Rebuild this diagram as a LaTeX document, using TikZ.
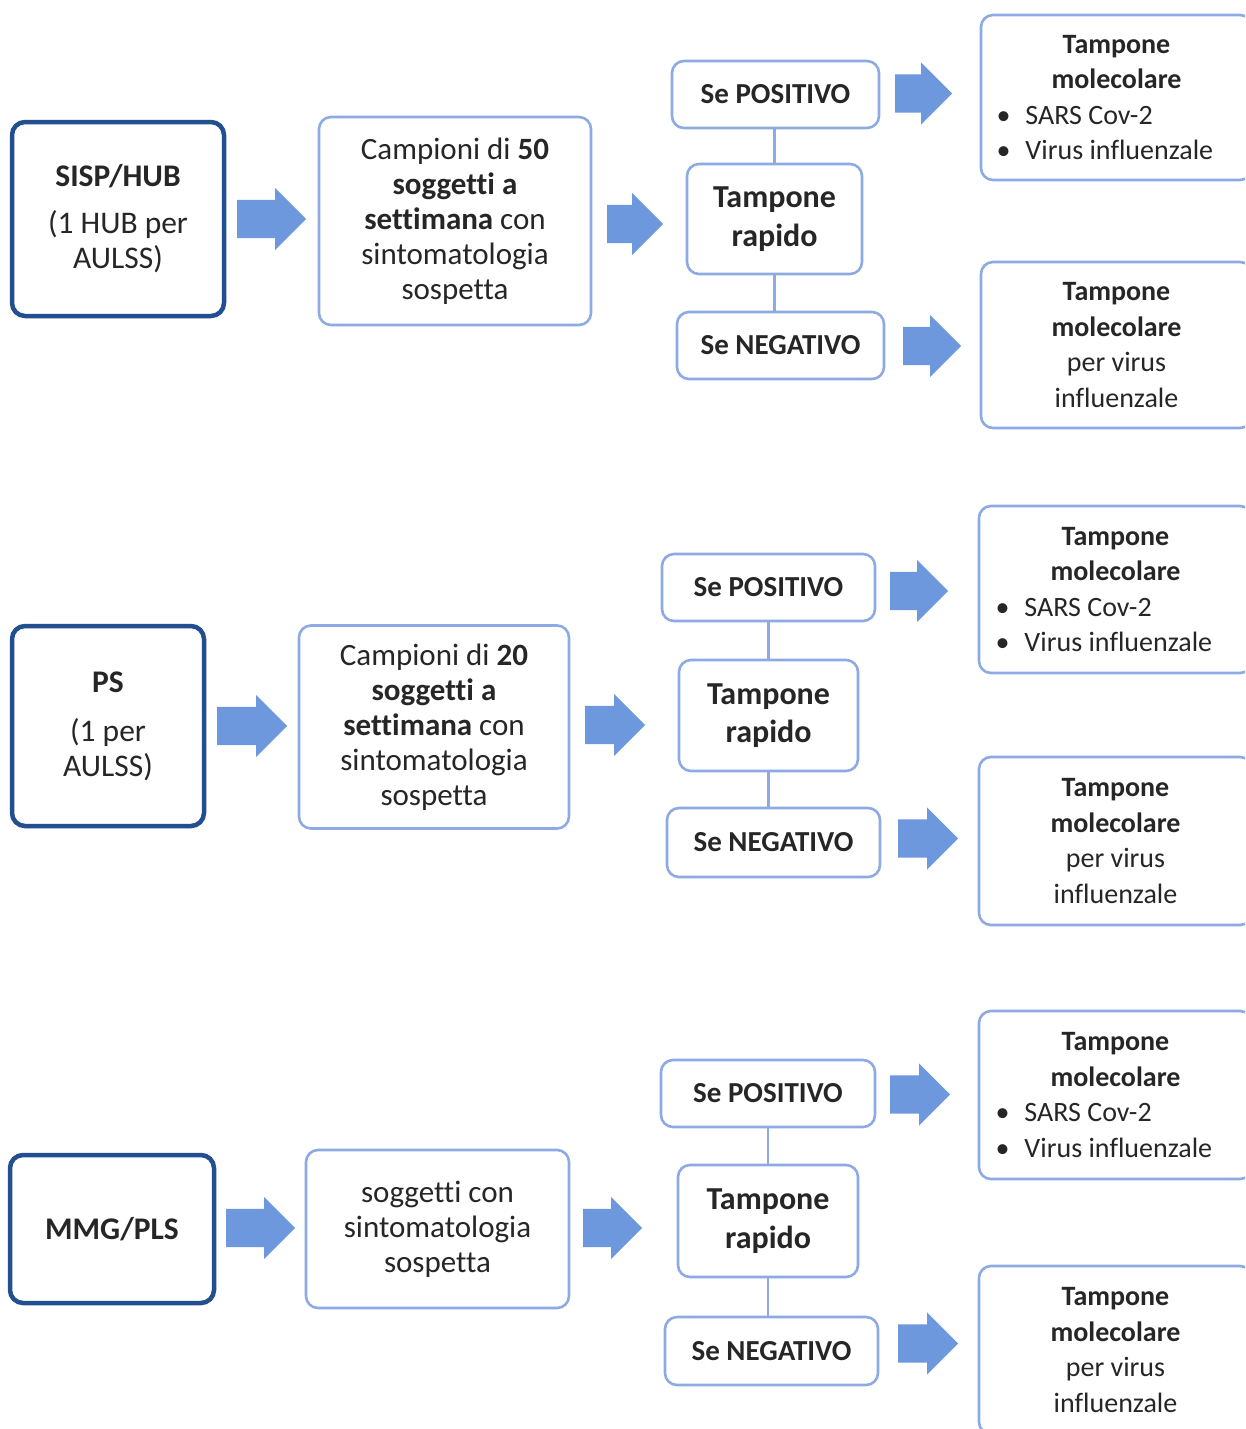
\documentclass[tikz,border=0pt]{standalone}
\usepackage{fontspec}
\setmainfont{Carlito}[Ligatures=NoCommon]
\usetikzlibrary{shapes.arrows}
\definecolor{darkb}{HTML}{224F8F}
\definecolor{lightb}{HTML}{8DAAE2}
\definecolor{arrowc}{HTML}{6E98DE}
\newcommand\fsz{\fontsize{28pt}{35.5pt}\selectfont}
\newcommand\fmid{\fontsize{31pt}{35pt}\selectfont}
\newcommand\fsrc{\fontsize{31.5pt}{35pt}\selectfont}
\newcommand\fse{\fontsize{29pt}{35pt}\selectfont}
\newcommand\fbig{\fontsize{32pt}{38.5pt}\selectfont}
\newcommand\bul[1]{\makebox[240pt][l]{\makebox[29pt][l]{•}#1}}
\tikzset{
  srcbox/.style={draw=darkb, line width=4.5pt, rounded corners=13pt, align=center, inner sep=0pt, font=\fsrc, text=black!85},
  lbox/.style={draw=lightb, line width=2.6pt, rounded corners=12pt, align=center, inner sep=0pt, font=\fsz, text=black!85},
  barrow/.style={single arrow, draw=none, fill=arrowc, inner sep=0pt, text height=19pt, text depth=19pt, single arrow head extend=12pt, anchor=west}
  ,vline/.style={draw=lightb, line width=2.4pt}
}
\begin{document}
\begin{tikzpicture}[x=1pt,y=-1pt]
\useasboundingbox (0,0) rectangle (1245,1429);
\clip (0,0) rectangle (1245,1429);
\fill[white] (0,0) rectangle (1245,1429);

% ---------- Row 1 ----------
\node[srcbox, minimum width=212pt, minimum height=194pt] (hub1) at (118,219)
  {\textbf{SISP/HUB}\\[12pt](1 HUB per\\AULSS)};
\node[lbox, font=\fmid, minimum width=272pt, minimum height=208pt] (c1) at (455,221)
  {Campioni di \textbf{50}\\\textbf{soggetti a}\\\textbf{settimana} con\\sintomatologia\\sospetta};
\node[barrow, minimum height=69pt] (a1) at (237,219) {};
\node[barrow, minimum height=56pt] (b1) at (607,224) {};
\node[lbox, minimum width=207pt, minimum height=67pt, font=\fse\bfseries] (pos1) at (775.5,94.5) {Se POSITIVO};
\node[lbox, minimum width=175pt, minimum height=110pt, font=\fbig\bfseries] (rap1) at (774.5,219) {Tampone\\rapido};
\node[lbox, minimum width=207pt, minimum height=67pt, font=\fse\bfseries] (neg1) at (780.5,345.5) {Se NEGATIVO};
\draw[vline] (rap1.north) -- (rap1.north |- pos1.south);
\draw[vline] (rap1.south) -- (rap1.south |- neg1.north);
\node[barrow, minimum height=57pt] (p1) at (895,93.5) {};
\node[barrow, minimum height=58pt] (n1) at (903,346) {};
\node[lbox, minimum width=271pt, minimum height=165pt] (r1a) at (1116.5,97.5)
  {\textbf{Tampone}\\\textbf{molecolare}\\\bul{SARS Cov-2}\\\bul{Virus influenzale}};
\node[lbox, minimum width=271pt, minimum height=166pt] (r1b) at (1116.5,345)
  {\textbf{Tampone}\\\textbf{molecolare}\\per virus\\influenzale};

% ---------- Row 2 ----------
\node[srcbox, minimum width=192pt, minimum height=200pt] (hub2) at (108,726)
  {\textbf{PS}\\[14pt](1 per\\AULSS)};
\node[lbox, font=\fmid, minimum width=270pt, minimum height=203pt] (c2) at (434,727)
  {Campioni di \textbf{20}\\\textbf{soggetti a}\\\textbf{settimana} con\\sintomatologia\\sospetta};
\node[barrow, minimum height=70pt] (a2) at (217,726) {};
\node[barrow, minimum height=60pt] (b2) at (585,725) {};
\node[lbox, minimum width=213pt, minimum height=67pt, font=\fse\bfseries] (pos2) at (768.5,587.5) {Se POSITIVO};
\node[lbox, minimum width=179pt, minimum height=111pt, font=\fbig\bfseries] (rap2) at (768.5,715.5) {Tampone\\rapido};
\node[lbox, minimum width=213pt, minimum height=69pt, font=\fse\bfseries] (neg2) at (773.5,842.5) {Se NEGATIVO};
\draw[vline] (rap2.north) -- (rap2.north |- pos2.south);
\draw[vline] (rap2.south) -- (rap2.south |- neg2.north);
\node[barrow, minimum height=58pt] (p2) at (890,591) {};
\node[barrow, minimum height=60pt] (n2) at (898,838.5) {};
\node[lbox, minimum width=273pt, minimum height=167pt] (r2a) at (1115.5,589.5)
  {\textbf{Tampone}\\\textbf{molecolare}\\\bul{SARS Cov-2}\\\bul{Virus influenzale}};
\node[lbox, minimum width=273pt, minimum height=168pt] (r2b) at (1115.5,841)
  {\textbf{Tampone}\\\textbf{molecolare}\\per virus\\influenzale};

% ---------- Row 3 ----------
\node[srcbox, minimum width=204pt, minimum height=148pt, font=\fsrc\bfseries] (hub3) at (112,1229) {MMG/PLS};
\node[lbox, font=\fmid, minimum width=263pt, minimum height=158pt] (c3) at (437.5,1229)
  {soggetti con\\sintomatologia\\sospetta};
\node[barrow, minimum height=69pt] (a3) at (226,1228) {};
\node[barrow, minimum height=59pt] (b3) at (583,1228) {};
\node[lbox, minimum width=214pt, minimum height=67pt, font=\fse\bfseries] (pos3) at (768,1093.5) {Se POSITIVO};
\node[lbox, minimum width=180pt, minimum height=112pt, font=\fbig\bfseries] (rap3) at (768,1221) {Tampone\\rapido};
\node[lbox, minimum width=213pt, minimum height=68pt, font=\fse\bfseries] (neg3) at (771.5,1351) {Se NEGATIVO};
\draw[vline] (rap3.north) -- (rap3.north |- pos3.south);
\draw[vline] (rap3.south) -- (rap3.south |- neg3.north);
\node[barrow, minimum height=60pt] (p3) at (890,1094.5) {};
\node[barrow, minimum height=60pt] (n3) at (898,1343.5) {};
\node[lbox, minimum width=273pt, minimum height=168pt] (r3a) at (1115.5,1095)
  {\textbf{Tampone}\\\textbf{molecolare}\\\bul{SARS Cov-2}\\\bul{Virus influenzale}};
\node[lbox, minimum width=273pt, minimum height=168pt] (r3b) at (1115.5,1350)
  {\textbf{Tampone}\\\textbf{molecolare}\\per virus\\influenzale};
\end{tikzpicture}
\end{document}
